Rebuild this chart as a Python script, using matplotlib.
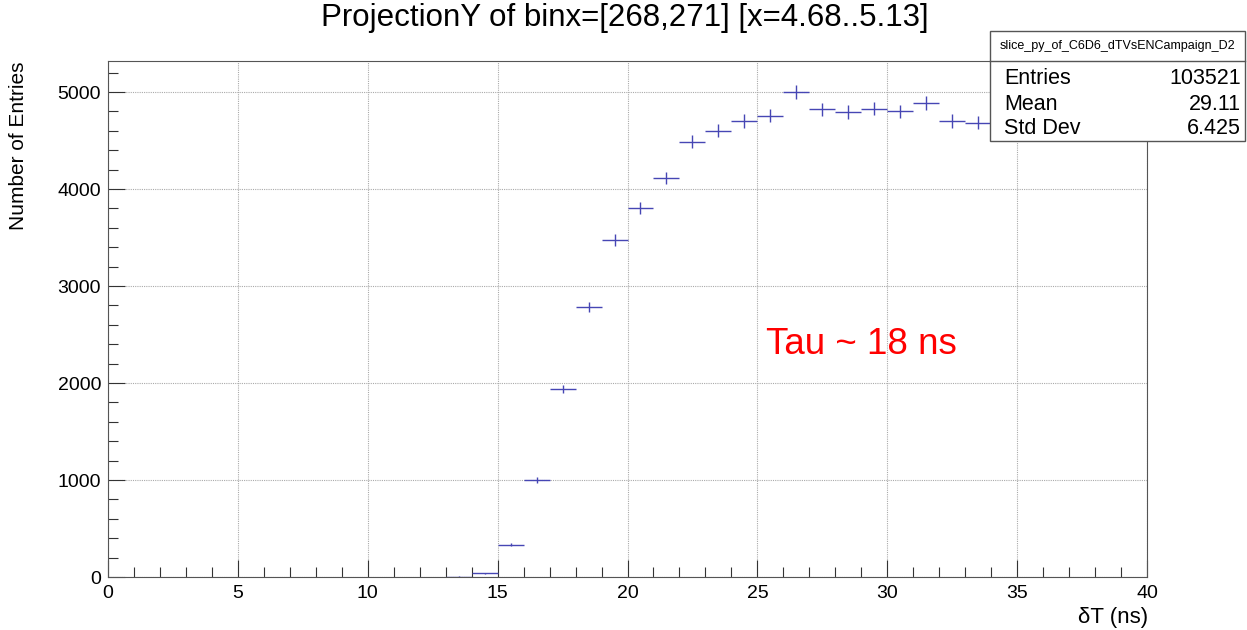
import numpy as np
import matplotlib
matplotlib.use("Agg")
import matplotlib.pyplot as plt
from matplotlib.ticker import MultipleLocator
from matplotlib.patches import Rectangle
from matplotlib.lines import Line2D

plt.rcParams['font.family'] = ['Liberation Sans', 'DejaVu Sans']

# Data (bin centers and counts)
bin_centers = [13.5, 14.5, 15.5, 16.5, 17.5, 18.5, 19.5, 20.5, 21.5, 22.5, 23.5,
               24.5, 25.5, 26.5, 27.5, 28.5, 29.5, 30.5, 31.5, 32.5, 33.5]
counts = [4, 40, 335, 998, 1940, 2785, 3475, 3805, 4115, 4485, 4600,
          4700, 4755, 5000, 4820, 4795, 4830, 4800, 4888, 4700, 4685]
title = "ProjectionY of binx=[268,271] [x=4.68..5.13]"
stats_name = "slice_py_of_C6D6_dTVsENCampaign_D2"
stats_labels = ["Entries", "Mean", "Std Dev"]
stats_values = ["103521", "29.11", "6.425"]

W, H = 1247, 630
fig = plt.figure(figsize=(W/100, H/100), dpi=100)

def fx(px): return px / W
def fy(py): return 1 - py / H

ax = fig.add_axes([fx(108), fy(577), fx(1147) - fx(108), fy(61) - fy(577)])
x = np.array(bin_centers)
y = np.array(counts, dtype=float)
ax.errorbar(x, y, xerr=0.5, yerr=np.sqrt(y), fmt='none', ecolor='#4646b4',
            elinewidth=1.0, capsize=0)
ax.set_xlim(0, 40)
ax.set_ylim(0, 5320)
ax.xaxis.set_major_locator(MultipleLocator(5))
ax.xaxis.set_minor_locator(MultipleLocator(1))
ax.yaxis.set_major_locator(MultipleLocator(1000))
ax.yaxis.set_minor_locator(MultipleLocator(200))
ax.tick_params(which='both', direction='in', top=False, right=False, color='#333333')
ax.tick_params(which='major', length=12, width=0.8, labelsize=14)
ax.tick_params(which='minor', length=7, width=0.8)
ax.tick_params(axis='y', pad=5)
ax.tick_params(axis='x', pad=6)
ax.grid(True, which='major', color='#aaaaaa', linestyle=(0, (1, 1)), linewidth=0.8)
for s in ax.spines.values():
    s.set_color('#555555')
    s.set_linewidth(0.8)

fig.text(0.5 * (fx(322) + fx(928)), fy(18), title, ha='center', va='center', fontsize=22.5)
fig.text(fx(1148), fy(617), "δT (ns)", ha='right', va='center', fontsize=16)
fig.text(fx(19), fy(61), "Number of Entries", rotation=90, ha='center', va='top', fontsize=15)

ax.text(25.35, 2395, "Tau ~ 18 ns", color='red', fontsize=26.5, ha='left', va='center')

# Stats box
bx0, bx1, by0, by1, bymid = 990, 1245, 31, 141, 61
fig.patches.append(Rectangle((fx(bx0), fy(by1)), fx(bx1) - fx(bx0), fy(by0) - fy(by1),
                             transform=fig.transFigure, facecolor='white',
                             edgecolor='#555555', linewidth=1.0, zorder=5))
fig.lines.append(Line2D([fx(bx0), fx(bx1)], [fy(bymid), fy(bymid)], transform=fig.transFigure,
                        color='#555555', linewidth=1.0, zorder=6))
fig.text(0.5 * (fx(bx0) + fx(bx1)), fy(46), stats_name, ha='center', va='center',
         fontsize=9, zorder=7)
rows_y = [78, 104, 129]
for lab, val, ry in zip(stats_labels, stats_values, rows_y):
    fig.text(fx(1004), fy(ry), lab, ha='left', va='center', fontsize=15.5, zorder=7)
    fig.text(fx(1241), fy(ry), val, ha='right', va='center', fontsize=15.5, zorder=7)

fig.savefig("out.png", dpi=100)
